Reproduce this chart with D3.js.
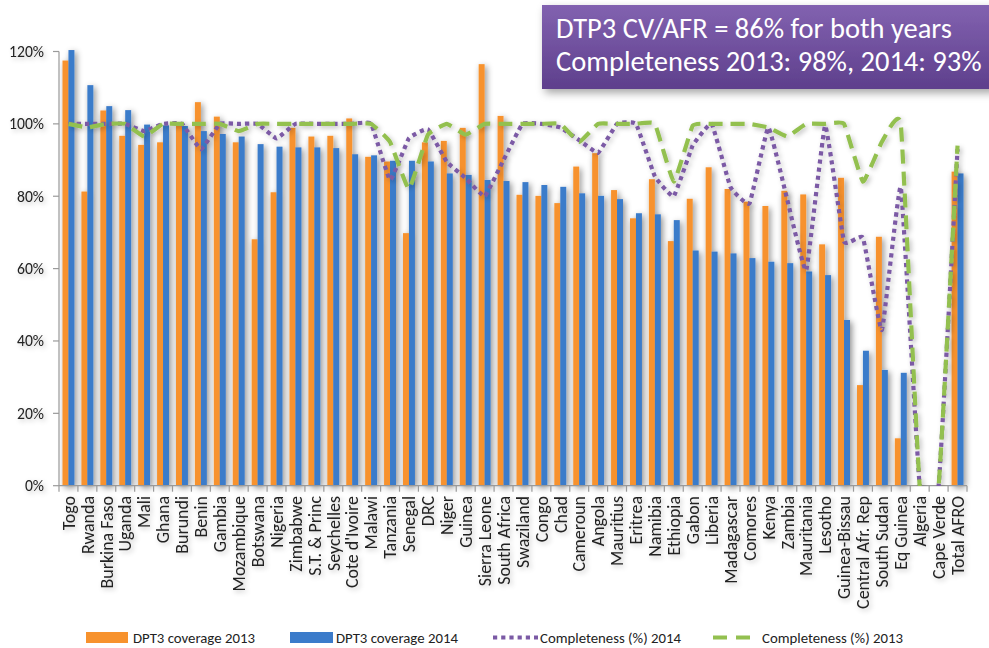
<!DOCTYPE html>
<html><head><meta charset="utf-8">
<script src="https://cdn.jsdelivr.net/npm/d3@7"></script>
<style>html,body{margin:0;padding:0;background:#fff;} svg{display:block;}</style>
</head><body><svg id="c" width="989" height="648"></svg>
<script>
const categories = ["Togo","Rwanda","Burkina Faso","Uganda","Mali","Ghana","Burundi","Benin","Gambia","Mozambique","Botswana","Nigeria","Zimbabwe","S.T. & Princ","Seychelles","Cote d'Ivoire","Malawi","Tanzania","Senegal","DRC","Niger","Guinea","Sierra Leone","South Africa","Swaziland","Congo","Chad","Cameroun","Angola","Mauritius","Eritrea","Namibia","Ethiopia","Gabon","Liberia","Madagascar","Comores","Kenya","Zambia","Mauritania","Lesotho","Guinea-Bissau","Central Afr. Rep","South Sudan","Eq Guinea","Algeria","Cape Verde","Total AFRO"];
const coverage2013 = [117.5,81.3,103.7,96.7,94.2,94.9,99.7,106,102,94.9,68.1,81.1,98.9,96.5,96.7,101.5,90.9,89.6,69.8,94.9,95.3,98.9,116.5,102.2,80.4,80.1,78.1,88.2,91.9,81.7,73.9,84.7,67.6,79.3,88.0,82.0,78.5,77.3,81.5,80.5,66.7,85.1,27.8,68.8,13.1,null,null,86.8];
const coverage2014 = [120.4,110.7,104.9,103.8,99.8,99.6,99.4,98.0,97.2,96.5,94.4,93.7,93.5,93.5,93.3,91.6,91.3,89.8,89.8,89.6,86.3,85.9,84.5,84.2,83.9,83.1,82.6,80.8,80.1,79.2,75.3,75.0,73.4,65.0,64.7,64.2,62.9,61.9,61.5,59.2,58.2,45.8,37.3,32.0,31.2,null,null,86.3];
const completeness2014 = [100,100,100,100,98,100,100,93,100,100,100,96,100,100,100,100,100,84.5,96,98.5,89.5,85,80,90,100,100,99,95.5,92,100,100,85.5,80,94,100,82.5,78,99,79,59.5,99.5,67.5,68.5,43,82.5,0,0,93];
const completeness2013 = [100,99,100,100,96.5,100,100,100,100,98,100,100,100,100,100,100,100,95,82,97,100,97,100,100,100,100,100,95,100,100,100,100,84,99.5,100,100,100,99,96.5,100,100,100,84,95,100,0,0,94];
const yTicks = [0,20,40,60,80,100,120];
const seriesNames = ["DPT3 coverage 2013","DPT3 coverage 2014","Completeness (%) 2014","Completeness (%) 2013"];
const titleLines = ["DTP3 CV/AFR = 86% for both years","Completeness 2013: 98%, 2014: 93%"];

const FONT = "Carlito, Lato, 'Open Sans', sans-serif";
const C = {o:"#f7922d", b:"#3b7bca", p:"#7b5aa5", g:"#93c050", axis:"#9a9a9a", text:"#222"};

const svg = d3.select("#c");
const defs = svg.append("defs");
function shadow(id, std, dx, dy, op){
  const f = defs.append("filter").attr("id",id).attr("x","-50%").attr("y","-30%").attr("width","200%").attr("height","160%");
  f.append("feGaussianBlur").attr("in","SourceAlpha").attr("stdDeviation",std);
  f.append("feOffset").attr("dx",dx).attr("dy",dy).attr("result","b");
  f.append("feFlood").attr("flood-color","#000").attr("flood-opacity",op);
  f.append("feComposite").attr("in2","b").attr("operator","in");
  const m = f.append("feMerge"); m.append("feMergeNode"); m.append("feMergeNode").attr("in","SourceGraphic");
}
shadow("sh",3,2,2,0.45);
shadow("sh2",4,3,4,0.35);
shadow("sh3",2.5,2,2,0.25);

const gradBox = defs.append("linearGradient").attr("id","gbox").attr("x1",0).attr("y1",0).attr("x2",0).attr("y2",1);
gradBox.append("stop").attr("offset","0%").attr("stop-color","#8262b0");
gradBox.append("stop").attr("offset","100%").attr("stop-color","#5e3f8c");

defs.append("clipPath").attr("id","plotclip").append("rect").attr("x",55).attr("y",30).attr("width",920).attr("height",456);

const x = d3.scaleBand().domain(categories).range([59,967]).paddingInner(0.37).paddingOuter(0.185);
const xs = d3.scaleBand().domain(["2013","2014"]).range([0,x.bandwidth()]);
const y = d3.scaleLinear().domain([0,120]).range([485.7,51.5]);
const step = x.step();
const cx = d => x(d) + x.bandwidth()/2;

function fitSize(text, target, base){
  const t = svg.append("text").attr("font-family",FONT).attr("font-size",base).text(text);
  const w = t.node().getComputedTextLength(); t.remove();
  return base*target/w;
}

// bars
const bars = svg.append("g").attr("filter","url(#sh)");
const barData = [];
categories.forEach((c,i)=>{
  if (coverage2013[i]!=null) barData.push({c, k:"2013", v:coverage2013[i], col:C.o});
  if (coverage2014[i]!=null) barData.push({c, k:"2014", v:coverage2014[i], col:C.b});
});
bars.selectAll("rect").data(barData).join("rect")
  .attr("x",d=>x(d.c)+xs(d.k)).attr("width",xs.bandwidth())
  .attr("y",d=>y(d.v)).attr("height",d=>y(0)-y(d.v)).attr("fill",d=>d.col);

// axes
const ax = svg.append("g");
ax.append("line").attr("x1",59).attr("x2",59).attr("y1",y(120)).attr("y2",y(0)).attr("stroke",C.axis).attr("stroke-width",1.2);
ax.append("line").attr("x1",59).attr("x2",967).attr("y1",y(0)).attr("y2",y(0)).attr("stroke",C.axis).attr("stroke-width",1.2);
ax.selectAll(".yt").data(yTicks).join("line").attr("x1",53).attr("x2",59).attr("y1",d=>y(d)).attr("y2",d=>y(d)).attr("stroke",C.axis).attr("stroke-width",1.2);
ax.selectAll(".xt").data(d3.range(categories.length+1)).join("line")
  .attr("x1",i=>59+i*step).attr("x2",i=>59+i*step).attr("y1",y(0)).attr("y2",y(0)+6).attr("stroke",C.axis).attr("stroke-width",1.2);

const yfs = fitSize("120%",35,15);
svg.append("g").attr("filter","url(#sh3)").selectAll("text").data(yTicks).join("text")
  .attr("x",44).attr("y",d=>y(d)).attr("dy","0.35em").attr("text-anchor","end")
  .attr("font-family",FONT).attr("font-size",yfs).attr("fill",C.text).text(d=>d+"%");

const xfs = fitSize("Central Afr. Rep",113,15);
svg.append("g").attr("filter","url(#sh3)").selectAll("text").data(categories).join("text")
  .attr("transform",d=>`translate(${cx(d)},496) rotate(-90)`).attr("dy","0.35em").attr("text-anchor","end")
  .attr("font-family",FONT).attr("font-size",xfs).attr("fill",C.text).text(d=>d);

// lines
const lineGen = d3.line().x((d,i)=>cx(categories[i])).y(d=>y(d)).curve(d3.curveCardinal.tension(0.7));
const lg = svg.append("g").attr("clip-path","url(#plotclip)").append("g").attr("filter","url(#sh3)");
lg.append("path").attr("d",lineGen(completeness2014)).attr("fill","none").attr("stroke",C.p).attr("stroke-width",4.2).attr("stroke-dasharray","4.2,4");
lg.append("path").attr("d",lineGen(completeness2013)).attr("fill","none").attr("stroke",C.g).attr("stroke-width",4.2).attr("stroke-dasharray","14,8");

// title box
const tb = svg.append("g");
tb.append("rect").attr("x",542).attr("y",5).attr("width",452).attr("height",84).attr("fill","url(#gbox)").attr("filter","url(#sh2)");
const tfs = fitSize(titleLines[0],396,24);
tb.selectAll("text").data(titleLines).join("text").attr("x",556).attr("y",(d,i)=>38+i*33)
  .attr("font-family",FONT).attr("font-size",tfs).attr("fill","#fff").text(d=>d);

// legend
const lfs = fitSize(seriesNames[0],122,14);
const leg = svg.append("g").attr("font-family",FONT).attr("font-size",lfs).attr("fill",C.text);
leg.append("rect").attr("x",86).attr("y",632).attr("width",42).attr("height",11).attr("fill",C.o);
leg.append("text").attr("x",133).attr("y",643).text(seriesNames[0]);
leg.append("rect").attr("x",290).attr("y",632).attr("width",43).attr("height",11).attr("fill",C.b);
leg.append("text").attr("x",336).attr("y",643).text(seriesNames[1]);
leg.append("line").attr("x1",493).attr("x2",538).attr("y1",637.5).attr("y2",637.5).attr("stroke",C.p).attr("stroke-width",4.2).attr("stroke-dasharray","4.2,4");
leg.append("text").attr("x",540).attr("y",643).text(seriesNames[2]);
leg.append("line").attr("x1",713).attr("x2",752).attr("y1",637.5).attr("y2",637.5).attr("stroke",C.g).attr("stroke-width",4.2).attr("stroke-dasharray","14,9");
leg.append("text").attr("x",762).attr("y",643).text(seriesNames[3]);
</script></body></html>
